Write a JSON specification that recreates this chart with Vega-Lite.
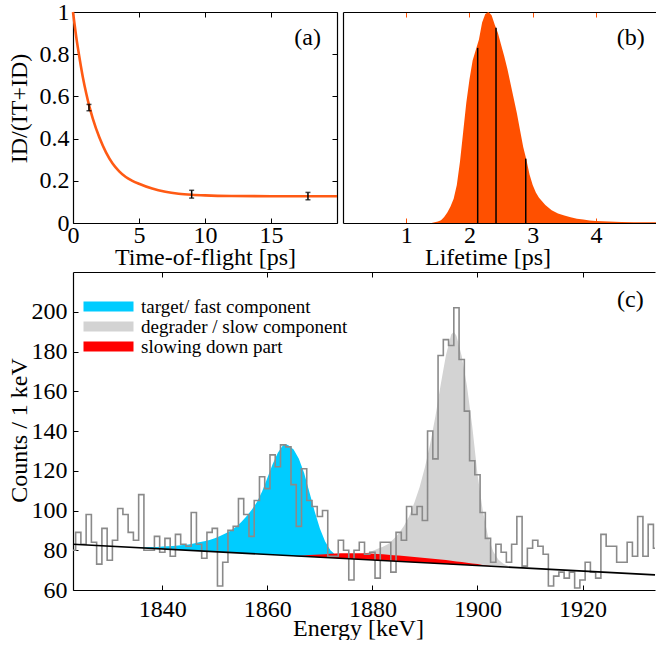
{
  "$schema": "https://vega.github.io/schema/vega-lite/v6.json",
  "padding": {"left": 7, "top": 0, "right": 0, "bottom": 0},
  "bounds": "full",
  "spacing": 2,
  "config": {
    "view": {"stroke": null},
    "font": "Liberation Serif",
    "axis": {
      "labelFont": "Liberation Serif", "titleFont": "Liberation Serif",
      "labelFontSize": 24, "titleFontSize": 24, "titleFontWeight": "normal",
      "labelColor": "black", "titleColor": "black",
      "domainColor": "black", "domainWidth": 1.2,
      "tickColor": "black", "tickSize": -5, "tickWidth": 1,
      "grid": false, "labelFlush": false, "labelOverlap": false
    },
    "text": {"font": "Liberation Serif", "fontSize": 24, "color": "black"}
  },
  "datasets": {
    "curve": [
      {"t": 0, "r": 1.0}, {"t": 0.25, "r": 0.88}, {"t": 0.5, "r": 0.78}, {"t": 0.75, "r": 0.69},
      {"t": 1.0, "r": 0.615}, {"t": 1.25, "r": 0.55}, {"t": 1.5, "r": 0.495}, {"t": 2.0, "r": 0.405},
      {"t": 2.5, "r": 0.335}, {"t": 3.0, "r": 0.282}, {"t": 3.5, "r": 0.245}, {"t": 4.0, "r": 0.218},
      {"t": 4.5, "r": 0.2}, {"t": 5.0, "r": 0.186}, {"t": 6.0, "r": 0.163}, {"t": 7.0, "r": 0.148},
      {"t": 8.0, "r": 0.139}, {"t": 9.0, "r": 0.134}, {"t": 10.0, "r": 0.131}, {"t": 12.0, "r": 0.128},
      {"t": 15.0, "r": 0.127}, {"t": 20.0, "r": 0.127}
    ],
    "points": [
      {"t": 1.21, "lo": 0.532, "hi": 0.562},
      {"t": 8.99, "lo": 0.118, "hi": 0.155},
      {"t": 17.8, "lo": 0.11, "hi": 0.145}
    ],
    "life": [
      {"v": 1.4, "f": 0.0}, {"v": 1.45, "f": 0.003}, {"v": 1.5, "f": 0.007}, {"v": 1.55, "f": 0.013},
      {"v": 1.6, "f": 0.028}, {"v": 1.65, "f": 0.05}, {"v": 1.7, "f": 0.078}, {"v": 1.75, "f": 0.115},
      {"v": 1.8, "f": 0.18}, {"v": 1.85, "f": 0.29}, {"v": 1.9, "f": 0.43}, {"v": 1.95, "f": 0.57},
      {"v": 2.0, "f": 0.68}, {"v": 2.05, "f": 0.77}, {"v": 2.1, "f": 0.82}, {"v": 2.15, "f": 0.87},
      {"v": 2.2, "f": 0.95}, {"v": 2.25, "f": 0.99}, {"v": 2.3, "f": 1.0}, {"v": 2.35, "f": 0.985},
      {"v": 2.4, "f": 0.94}, {"v": 2.45, "f": 0.9}, {"v": 2.5, "f": 0.845}, {"v": 2.55, "f": 0.79},
      {"v": 2.6, "f": 0.73}, {"v": 2.65, "f": 0.66}, {"v": 2.7, "f": 0.59}, {"v": 2.75, "f": 0.52},
      {"v": 2.8, "f": 0.44}, {"v": 2.85, "f": 0.36}, {"v": 2.9, "f": 0.3}, {"v": 2.95, "f": 0.23},
      {"v": 3.0, "f": 0.18}, {"v": 3.05, "f": 0.145}, {"v": 3.1, "f": 0.12}, {"v": 3.2, "f": 0.085},
      {"v": 3.3, "f": 0.06}, {"v": 3.4, "f": 0.045}, {"v": 3.5, "f": 0.035}, {"v": 3.6, "f": 0.027},
      {"v": 3.7, "f": 0.02}, {"v": 3.8, "f": 0.016}, {"v": 3.9, "f": 0.012}, {"v": 4.0, "f": 0.01},
      {"v": 4.2, "f": 0.007}, {"v": 4.4, "f": 0.005}, {"v": 4.6, "f": 0.004}, {"v": 4.8, "f": 0.003},
      {"v": 4.95, "f": 0.003}
    ],
    "lines": [
      {"v": 2.13, "b": 0, "h": 0.83}, {"v": 2.42, "b": 0, "h": 0.925}, {"v": 2.89, "b": 0, "h": 0.305}
    ],
    "hist": [
      {"E":1823,"n":80},{"E":1824,"n":89},{"E":1825,"n":83},{"E":1826,"n":98},{"E":1827,"n":84},
      {"E":1828,"n":73},{"E":1829,"n":91},{"E":1830,"n":75},{"E":1831,"n":85},{"E":1832,"n":101},
      {"E":1833,"n":98},{"E":1834,"n":89},{"E":1835,"n":85},{"E":1836,"n":108},{"E":1837,"n":80},
      {"E":1838,"n":80},{"E":1839,"n":87},{"E":1840,"n":79},{"E":1841,"n":86},{"E":1842,"n":77},
      {"E":1843,"n":88},{"E":1844,"n":83},{"E":1845,"n":82},{"E":1846,"n":99},{"E":1847,"n":83},
      {"E":1848,"n":76},{"E":1849,"n":89},{"E":1850,"n":91},{"E":1851,"n":62},{"E":1852,"n":74},
      {"E":1853,"n":90},{"E":1854,"n":92},{"E":1855,"n":106},{"E":1856,"n":98},{"E":1857,"n":87},
      {"E":1858,"n":105},{"E":1859,"n":117},{"E":1860,"n":111},{"E":1861,"n":128},{"E":1862,"n":122},
      {"E":1863,"n":133},{"E":1864,"n":132},{"E":1865,"n":113},{"E":1866,"n":92},{"E":1867,"n":121},
      {"E":1868,"n":105},{"E":1869,"n":102},{"E":1870,"n":97},{"E":1871,"n":100},{"E":1872,"n":77},
      {"E":1873,"n":77},{"E":1874,"n":85},{"E":1875,"n":80},{"E":1876,"n":65},{"E":1877,"n":80},
      {"E":1878,"n":84},{"E":1879,"n":78},{"E":1880,"n":79},{"E":1881,"n":66},{"E":1882,"n":84},
      {"E":1883,"n":84},{"E":1884,"n":69},{"E":1885,"n":89},{"E":1886,"n":85},{"E":1887,"n":102},
      {"E":1888,"n":98},{"E":1889,"n":102},{"E":1890,"n":95},{"E":1891,"n":140},{"E":1892,"n":126},
      {"E":1893,"n":178},{"E":1894,"n":186},{"E":1895,"n":183},{"E":1896,"n":202},{"E":1897,"n":176},
      {"E":1898,"n":150},{"E":1899,"n":125},{"E":1900,"n":118},{"E":1901,"n":99},{"E":1902,"n":86},
      {"E":1903,"n":74},{"E":1904,"n":83},{"E":1905,"n":79},{"E":1906,"n":74},{"E":1907,"n":83},
      {"E":1908,"n":97},{"E":1909,"n":72},{"E":1910,"n":81},{"E":1911,"n":85},{"E":1912,"n":82},
      {"E":1913,"n":78},{"E":1914,"n":62},{"E":1915,"n":67},{"E":1916,"n":69},{"E":1917,"n":66},
      {"E":1918,"n":69},{"E":1919,"n":61},{"E":1920,"n":65},{"E":1921,"n":74},{"E":1922,"n":69},
      {"E":1923,"n":66},{"E":1924,"n":88},{"E":1925,"n":82},{"E":1926,"n":82},{"E":1927,"n":74},
      {"E":1928,"n":74},{"E":1929,"n":84},{"E":1930,"n":77},{"E":1931,"n":97},{"E":1932,"n":77},
      {"E":1933,"n":93},{"E":1934,"n":81}
    ],
    "blue": [
      {"E":1833,"lo":81.61,"hi":81.61},{"E":1834,"lo":81.47,"hi":81.57},{"E":1835,"lo":81.34,"hi":81.54},
      {"E":1836,"lo":81.2,"hi":81.5},{"E":1837,"lo":81.06,"hi":81.56},{"E":1838,"lo":80.92,"hi":81.62},
      {"E":1839,"lo":80.78,"hi":81.68},{"E":1840,"lo":80.64,"hi":81.84},{"E":1841,"lo":80.5,"hi":82.0},
      {"E":1842,"lo":80.36,"hi":82.16},{"E":1843,"lo":80.23,"hi":82.43},{"E":1844,"lo":80.09,"hi":82.69},
      {"E":1845,"lo":79.95,"hi":82.95},{"E":1846,"lo":79.81,"hi":83.41},{"E":1847,"lo":79.67,"hi":83.97},
      {"E":1848,"lo":79.53,"hi":84.53},{"E":1849,"lo":79.39,"hi":85.19},{"E":1850,"lo":79.25,"hi":86.05},
      {"E":1851,"lo":79.12,"hi":87.12},{"E":1852,"lo":78.98,"hi":88.38},{"E":1853,"lo":78.84,"hi":89.84},
      {"E":1854,"lo":78.7,"hi":91.7},{"E":1855,"lo":78.56,"hi":94.06},{"E":1856,"lo":78.42,"hi":96.92},
      {"E":1857,"lo":78.28,"hi":100.28},{"E":1858,"lo":78.14,"hi":104.14},{"E":1859,"lo":78.01,"hi":109.51},
      {"E":1860,"lo":77.87,"hi":116.37},{"E":1861,"lo":77.73,"hi":123.23},{"E":1862,"lo":77.59,"hi":129.09},
      {"E":1863,"lo":77.45,"hi":132.95},{"E":1863.5,"lo":77.38,"hi":133.38},{"E":1864,"lo":77.31,"hi":132.81},
      {"E":1865,"lo":77.17,"hi":130.67},{"E":1866,"lo":77.03,"hi":126.03},{"E":1867,"lo":76.9,"hi":118.9},
      {"E":1868,"lo":76.76,"hi":109.26},{"E":1869,"lo":76.62,"hi":99.62},{"E":1870,"lo":76.48,"hi":90.98},
      {"E":1871,"lo":76.34,"hi":84.34},{"E":1872,"lo":76.2,"hi":80.0},{"E":1873,"lo":76.06,"hi":77.56},
      {"E":1874,"lo":75.93,"hi":76.33},{"E":1875,"lo":75.79,"hi":75.79}
    ],
    "gray": [
      {"E":1873,"lo":76.06,"hi":76.06},{"E":1874,"lo":75.93,"hi":76.33},{"E":1875,"lo":75.79,"hi":76.59},
      {"E":1876,"lo":75.65,"hi":76.95},{"E":1877,"lo":75.51,"hi":77.51},{"E":1878,"lo":75.37,"hi":78.07},
      {"E":1879,"lo":75.23,"hi":78.73},{"E":1880,"lo":75.09,"hi":79.59},{"E":1881,"lo":74.95,"hi":80.75},
      {"E":1882,"lo":74.82,"hi":81.82},{"E":1883,"lo":74.68,"hi":83.18},{"E":1884,"lo":74.54,"hi":85.54},
      {"E":1885,"lo":74.4,"hi":88.4},{"E":1886,"lo":74.26,"hi":92.26},{"E":1887,"lo":74.12,"hi":97.12},
      {"E":1888,"lo":73.98,"hi":103.98},{"E":1889,"lo":73.84,"hi":111.84},{"E":1890,"lo":73.71,"hi":121.71},
      {"E":1891,"lo":73.57,"hi":133.57},{"E":1892,"lo":73.43,"hi":147.43},{"E":1893,"lo":73.29,"hi":163.29},
      {"E":1894,"lo":73.15,"hi":178.15},{"E":1895,"lo":73.01,"hi":188.51},{"E":1895.5,"lo":72.94,"hi":189.94},
      {"E":1896,"lo":72.87,"hi":187.87},{"E":1897,"lo":72.73,"hi":177.73},{"E":1898,"lo":72.6,"hi":162.6},
      {"E":1899,"lo":72.46,"hi":142.46},{"E":1900,"lo":72.32,"hi":118.32},{"E":1901,"lo":72.18,"hi":100.18},
      {"E":1902,"lo":72.04,"hi":87.04},{"E":1903,"lo":71.9,"hi":79.4},{"E":1904,"lo":71.76,"hi":75.26},
      {"E":1905,"lo":71.62,"hi":73.12},{"E":1906,"lo":71.49,"hi":71.99},{"E":1907,"lo":71.35,"hi":71.35}
    ],
    "red": [
      {"E":1865,"lo":77.17,"hi":77.17},{"E":1866,"lo":77.03,"hi":77.23},{"E":1867,"lo":76.9,"hi":77.4},
      {"E":1868,"lo":76.76,"hi":77.56},{"E":1869,"lo":76.62,"hi":77.72},{"E":1870,"lo":76.48,"hi":77.88},
      {"E":1871,"lo":76.34,"hi":78.04},{"E":1872,"lo":76.2,"hi":78.2},{"E":1873,"lo":76.06,"hi":78.36},
      {"E":1874,"lo":75.93,"hi":78.43},{"E":1875,"lo":75.79,"hi":78.49},{"E":1876,"lo":75.65,"hi":78.55},
      {"E":1877,"lo":75.51,"hi":78.51},{"E":1878,"lo":75.37,"hi":78.47},{"E":1879,"lo":75.23,"hi":78.43},
      {"E":1880,"lo":75.09,"hi":78.29},{"E":1881,"lo":74.95,"hi":78.15},{"E":1882,"lo":74.82,"hi":78.02},
      {"E":1883,"lo":74.68,"hi":77.78},{"E":1884,"lo":74.54,"hi":77.54},{"E":1885,"lo":74.4,"hi":77.3},
      {"E":1886,"lo":74.26,"hi":77.06},{"E":1887,"lo":74.12,"hi":76.82},{"E":1888,"lo":73.98,"hi":76.58},
      {"E":1889,"lo":73.84,"hi":76.34},{"E":1890,"lo":73.71,"hi":76.11},{"E":1891,"lo":73.57,"hi":75.87},
      {"E":1892,"lo":73.43,"hi":75.63},{"E":1893,"lo":73.29,"hi":75.29},{"E":1894,"lo":73.15,"hi":75.05},
      {"E":1895,"lo":73.01,"hi":74.71},{"E":1896,"lo":72.87,"hi":74.37},{"E":1897,"lo":72.73,"hi":74.03},
      {"E":1898,"lo":72.6,"hi":73.7},{"E":1899,"lo":72.46,"hi":73.36},{"E":1900,"lo":72.32,"hi":73.02},
      {"E":1901,"lo":72.18,"hi":72.58},{"E":1902,"lo":72.04,"hi":72.24},{"E":1903,"lo":71.9,"hi":71.9}
    ],
    "bgline": [{"E": 1823, "c": 83.0}, {"E": 1933.8, "c": 67.63}],
    "labA": [{"x": 17.77, "y": 0.879, "s": "(a)"}],
    "labB": [{"x": 4.55, "y": 0.879, "s": "(b)"}],
    "labC": [{"x": 1929.1, "y": 206, "s": "(c)"}]
  },
  "vconcat": [
    {
      "hconcat": [
        {
          "width": 264, "height": 211,
          "resolve": {"axis": {"x": "independent", "y": "independent"}},
          "layer": [
            {
              "data": {"name": "curve"},
              "mark": {"type": "line", "color": "#ff5a14", "strokeWidth": 2.6, "interpolate": "monotone"},
              "encoding": {
                "x": {"field": "t", "type": "quantitative", "scale": {"domain": [0, 20], "nice": false},
                  "axis": {"orient": "bottom", "values": [0, 5, 10, 15], "labelBaseline": "alphabetic", "labelPadding": 24,
                    "title": "Time-of-flight [ps]", "titleX": 132, "titleY": 41, "titleBaseline": "alphabetic", "titleAlign": "center"}},
                "y": {"field": "r", "type": "quantitative", "scale": {"domain": [0, 1], "nice": false},
                  "axis": {"orient": "left", "values": [0, 0.2, 0.4, 0.6, 0.8, 1], "format": "~g", "labelPadding": 9,
                    "title": "ID/(IT+ID)", "titleX": -47, "titleY": 96, "titleAngle": -90, "titleBaseline": "alphabetic", "titleAlign": "center"}}
              }
            },
            {
              "data": {"name": "curve"},
              "mark": {"type": "line", "opacity": 0},
              "encoding": {
                "x": {"field": "t", "type": "quantitative", "axis": {"orient": "top", "values": [0, 5, 10, 15], "labels": false, "title": null}},
                "y": {"field": "r", "type": "quantitative", "axis": {"orient": "right", "values": [0, 0.2, 0.4, 0.6, 0.8, 1], "labels": false, "title": null}}
              }
            },
            {
              "data": {"name": "points"},
              "mark": {"type": "rule", "color": "black", "strokeWidth": 1.5},
              "encoding": {
                "x": {"field": "t", "type": "quantitative", "axis": null},
                "y": {"field": "lo", "type": "quantitative", "axis": null},
                "y2": {"field": "hi"}
              }
            },
            {
              "data": {"name": "points"},
              "mark": {"type": "tick", "color": "black", "orient": "horizontal", "size": 5, "thickness": 1.5},
              "encoding": {
                "x": {"field": "t", "type": "quantitative", "axis": null},
                "y": {"field": "lo", "type": "quantitative", "axis": null}
              }
            },
            {
              "data": {"name": "points"},
              "mark": {"type": "tick", "color": "black", "orient": "horizontal", "size": 5, "thickness": 1.5},
              "encoding": {
                "x": {"field": "t", "type": "quantitative", "axis": null},
                "y": {"field": "hi", "type": "quantitative", "axis": null}
              }
            },
            {
              "data": {"name": "labA"},
              "mark": {"type": "text", "align": "center", "baseline": "middle"},
              "encoding": {
                "x": {"field": "x", "type": "quantitative", "axis": null},
                "y": {"field": "y", "type": "quantitative", "axis": null},
                "text": {"field": "s", "type": "nominal"}
              }
            }
          ]
        },
        {
          "width": 313, "height": 211,
          "resolve": {"axis": {"x": "independent", "y": "independent"}},
          "layer": [
            {
              "data": {"name": "life"},
              "mark": {"type": "area", "color": "#ff5000", "opacity": 1, "interpolate": "linear"},
              "encoding": {
                "x": {"field": "v", "type": "quantitative", "scale": {"domain": [0, 4.95], "nice": false},
                  "axis": {"orient": "bottom", "values": [1, 2, 3, 4], "labelBaseline": "alphabetic", "labelPadding": 24, "tickColor": "#ff5000",
                    "title": "Lifetime [ps]", "titleX": 144.5, "titleY": 41, "titleBaseline": "alphabetic", "titleAlign": "center"}},
                "y": {"field": "f", "type": "quantitative", "scale": {"domain": [0, 1], "nice": false},
                  "axis": {"orient": "left", "ticks": false, "labels": false, "title": null}}
              }
            },
            {
              "data": {"name": "life"},
              "mark": {"type": "line", "opacity": 0},
              "encoding": {
                "x": {"field": "v", "type": "quantitative", "axis": {"orient": "top", "values": [1, 2, 3, 4], "labels": false, "title": null, "tickColor": "#ff5000"}},
                "y": {"field": "f", "type": "quantitative", "axis": null}
              }
            },
            {
              "data": {"name": "lines"},
              "mark": {"type": "rule", "color": "black", "strokeWidth": 1.5},
              "encoding": {
                "x": {"field": "v", "type": "quantitative", "axis": null},
                "y": {"field": "b", "type": "quantitative", "axis": null},
                "y2": {"field": "h"}
              }
            },
            {
              "data": {"name": "labB"},
              "mark": {"type": "text", "align": "center", "baseline": "middle"},
              "encoding": {
                "x": {"field": "x", "type": "quantitative", "axis": null},
                "y": {"field": "y", "type": "quantitative", "axis": null},
                "text": {"field": "s", "type": "nominal"}
              }
            }
          ]
        }
      ],
      "bounds": "full",
      "spacing": 0
    },
    {
      "width": 582, "height": 318,
      "resolve": {"axis": {"x": "independent", "y": "independent"}},
      "layer": [
        {
          "data": {"name": "blue"},
          "mark": {"type": "area", "opacity": 1},
          "encoding": {
            "x": {"field": "E", "type": "quantitative", "scale": {"domain": [1823, 1933.8], "nice": false},
              "axis": {"orient": "bottom", "values": [1840, 1860, 1880, 1900, 1920], "format": "d", "labelBaseline": "alphabetic", "labelPadding": 31,
                "title": "Energy [keV]", "titleX": 285, "titleY": 45, "titleBaseline": "alphabetic", "titleAlign": "center"}},
            "y": {"field": "hi", "type": "quantitative", "scale": {"domain": [60, 220], "nice": false, "zero": false},
              "axis": {"orient": "left", "values": [60, 80, 100, 120, 140, 160, 180, 200], "labelPadding": 11,
                "title": "Counts / 1 keV", "titleX": -47, "titleY": 158, "titleAngle": -90, "titleBaseline": "alphabetic", "titleAlign": "center"}},
            "y2": {"field": "lo"},
            "color": {"datum": "target/ fast component", "type": "nominal",
              "scale": {"domain": ["target/ fast component", "degrader / slow component", "slowing down part"], "range": ["#00ccff", "#d3d3d3", "#ff0000"]},
              "legend": {"orient": "none", "legendX": 6, "legendY": 285, "title": null, "padding": 0,
                "symbolType": "M-1,-1H9V1H-1Z", "symbolSize": 100, "symbolStrokeWidth": 0, "symbolOpacity": 1,
                "labelOffset": 43, "labelLimit": 400, "labelFontSize": 19, "labelFont": "Liberation Serif", "labelColor": "black", "rowPadding": -8}}
          }
        },
        {
          "data": {"name": "gray"},
          "mark": {"type": "area", "opacity": 1},
          "encoding": {
            "x": {"field": "E", "type": "quantitative", "axis": null},
            "y": {"field": "hi", "type": "quantitative", "axis": null},
            "y2": {"field": "lo"},
            "color": {"datum": "degrader / slow component", "type": "nominal"}
          }
        },
        {
          "data": {"name": "red"},
          "mark": {"type": "area", "opacity": 1},
          "encoding": {
            "x": {"field": "E", "type": "quantitative", "axis": null},
            "y": {"field": "hi", "type": "quantitative", "axis": null},
            "y2": {"field": "lo"},
            "color": {"datum": "slowing down part", "type": "nominal"}
          }
        },
        {
          "data": {"name": "hist"},
          "mark": {"type": "line", "interpolate": "step", "color": "#8a8a8a", "strokeWidth": 1.6, "clip": true},
          "encoding": {
            "x": {"field": "E", "type": "quantitative", "axis": null},
            "y": {"field": "n", "type": "quantitative", "axis": null}
          }
        },
        {
          "data": {"name": "bgline"},
          "mark": {"type": "line", "color": "black", "strokeWidth": 1.6},
          "encoding": {
            "x": {"field": "E", "type": "quantitative", "axis": null},
            "y": {"field": "c", "type": "quantitative", "axis": null}
          }
        },
        {
          "data": {"name": "bgline"},
          "mark": {"type": "line", "opacity": 0},
          "encoding": {
            "x": {"field": "E", "type": "quantitative", "axis": {"orient": "top", "values": [1840, 1860, 1880, 1900, 1920], "labels": false, "title": null}},
            "y": {"field": "c", "type": "quantitative", "axis": null}
          }
        },
        {
          "data": {"name": "labC"},
          "mark": {"type": "text", "align": "center", "baseline": "middle"},
          "encoding": {
            "x": {"field": "x", "type": "quantitative", "axis": null},
            "y": {"field": "y", "type": "quantitative", "axis": null},
            "text": {"field": "s", "type": "nominal"}
          }
        }
      ]
    }
  ]
}
